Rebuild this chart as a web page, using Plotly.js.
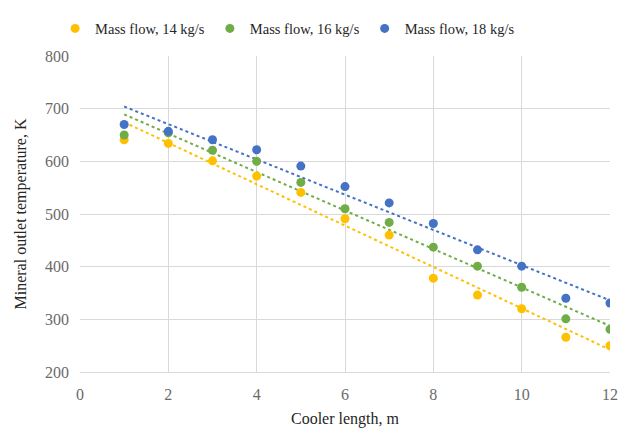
<!DOCTYPE html>
<html>
<head>
<meta charset="utf-8">
<script src="https://cdn.plot.ly/plotly-3.0.1.min.js"></script>
<style>html,body{margin:0;padding:0;background:#fff;}#chart{width:628px;height:430px;}</style>
</head>
<body>
<div id="chart"></div>
<script>
var lengths = [1, 2, 3, 4, 5, 6, 7, 8, 9, 10, 11, 12];
var flow14 = [641, 634, 601, 572, 541, 491, 460, 378, 346, 320, 266, 250];
var flow16 = [650, 654, 621, 600, 560, 510, 484, 437, 401, 361, 301, 281];
var flow18 = [670, 657, 641, 622, 591, 552, 521, 482, 432, 401, 340, 331];
var seriesNames = ["Mass flow, 14 kg/s", "Mass flow, 16 kg/s", "Mass flow, 18 kg/s"];
var seriesColors = ["#FFC000", "#70AD47", "#4472C4"];
var xTicks = [0, 2, 4, 6, 8, 10, 12];
var yTicks = [200, 300, 400, 500, 600, 700, 800];

function linFit(x, y) {
  var n = x.length, sx = 0, sy = 0, sxx = 0, sxy = 0;
  for (var i = 0; i < n; i++) { sx += x[i]; sy += y[i]; sxx += x[i]*x[i]; sxy += x[i]*y[i]; }
  var b = (n*sxy - sx*sy) / (n*sxx - sx*sx);
  var a = (sy - b*sx) / n;
  return x.map(function (v) { return a + b*v; });
}

var all = [flow14, flow16, flow18];
var traces = [];
all.forEach(function (ys, i) {
  traces.push({
    x: lengths, y: linFit(lengths, ys), mode: 'lines', type: 'scatter',
    line: {color: seriesColors[i], width: 2, dash: 'dot'},
    showlegend: false, hoverinfo: 'skip'
  });
});
all.forEach(function (ys, i) {
  traces.push({
    x: lengths, y: ys, mode: 'markers', type: 'scatter', name: seriesNames[i],
    marker: {color: seriesColors[i], size: 9}
  });
});

var layout = {
  width: 628, height: 430,
  margin: {l: 80, r: 18, t: 50, b: 58},
  paper_bgcolor: '#fff', plot_bgcolor: '#fff',
  font: {family: 'Liberation Serif, Times New Roman, serif', size: 16, color: '#404040'},
  showlegend: true,
  legend: {orientation: 'h', x: -0.047, xanchor: 'left', y: 1.087, yanchor: 'middle',
           font: {size: 14.5, color: '#262626'}, itemwidth: 30, tracegroupgap: 0},
  xaxis: {
    range: [0, 12], tickvals: xTicks, showgrid: true, gridcolor: '#d9d9d9', gridwidth: 1,
    zeroline: false, showline: true, linecolor: '#d9d9d9', linewidth: 1,
    ticks: '', ticklabelstandoff: 8,
    tickfont: {size: 16, color: '#6a6a6a'},
    title: {text: 'Cooler length, m', font: {size: 16, color: '#262626'}, standoff: 10}
  },
  yaxis: {
    range: [200, 800], tickvals: yTicks, showgrid: true, gridcolor: '#d9d9d9', gridwidth: 1,
    zeroline: false, showline: false, ticks: '', ticklabelstandoff: 10,
    tickfont: {size: 16, color: '#6a6a6a'},
    title: {text: 'Mineral outlet temperature, K', font: {size: 16, color: '#262626'}, standoff: 14}
  }
};

Plotly.newPlot('chart', traces, layout, {displayModeBar: false, staticPlot: true});
</script>
</body>
</html>
